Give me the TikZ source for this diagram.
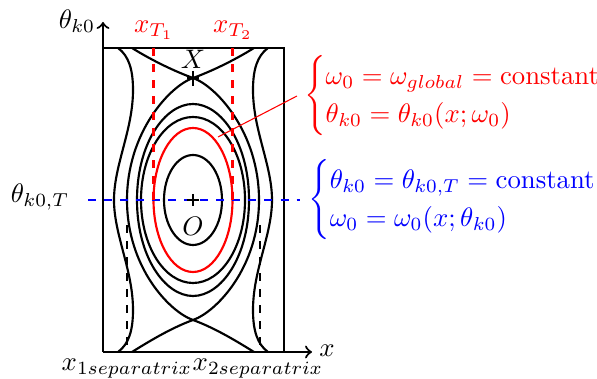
\documentclass[tikz,border=0pt]{standalone}
\usepackage{amsmath}
\begin{document}
\begin{tikzpicture}[x=0.374pt,y=-0.374pt,
  curve/.style={thick,black},
  redcurve/.style={thick,red},
  axisline/.style={thick,->},
  thinmark/.style={line width=0.4pt},
  vdash/.style={thick,dashed},
  lbl/.style={inner sep=1pt}]
\useasboundingbox (0,0) rectangle (597,379);
% named points
\coordinate (orig) at (103,352);
\coordinate (ytip) at (103,22);
\coordinate (xtip) at (312,352);
\coordinate (O) at (193,200);
\coordinate (X) at (193,78);
% box
\draw[thick] (103,48) -- (284,48) -- (284,352);
% axes
\draw[axisline] (orig) -- (ytip);
\draw[axisline] (orig) -- (xtip);
% outer open orbits
\draw[curve] (118,48) .. controls (129,56) and (133,70) .. (133,90)
  .. controls (133,130) and (114,165) .. (114,200)
  .. controls (114,235) and (133,270) .. (133,310)
  .. controls (133,330) and (129,344) .. (118,352);
\draw[curve] (268,48) .. controls (257,56) and (253,70) .. (253,90)
  .. controls (253,130) and (272,165) .. (272,200)
  .. controls (272,235) and (253,270) .. (253,310)
  .. controls (253,330) and (257,344) .. (268,352);
% separatrices
\draw[curve] (254,48) .. controls (238,58) and (215,70) .. (X)
  .. controls (170,86) and (127,132) .. (127,200)
  .. controls (127,268) and (170,312) .. (193,320)
  .. controls (215,328) and (238,342) .. (254,352);
\draw[curve] (132,48) .. controls (148,58) and (171,70) .. (X)
  .. controls (216,86) and (259,132) .. (259,200)
  .. controls (259,268) and (216,312) .. (193,320)
  .. controls (171,328) and (148,342) .. (132,352);
% closed orbits
\draw[curve] (193,104) .. controls (221,104) and (249,143) .. (249,200)
  .. controls (249,257) and (221,296) .. (193,296)
  .. controls (165,296) and (137,257) .. (137,200)
  .. controls (137,143) and (165,104) .. cycle;
\draw[curve] (O) ellipse [x radius=52, y radius=83];
\draw[redcurve] (O) ellipse [x radius=39.5, y radius=72];
\draw[curve] (O) ellipse [x radius=29, y radius=45];
% dashed lines
\draw[thick,dashed,blue] (88,200) -- (300,200);
\draw[vdash,red] (153.5,48) -- (153.5,200);
\draw[vdash,red] (232.5,48) -- (232.5,200);
\draw[vdash] (127,225) coordinate (d1) -- (127,352);
\draw[vdash] (260,225) coordinate (d2) -- (260,352);
% plus marks
\draw[thinmark] (187,200) -- (199,200) (193,194) -- (193,206);
\draw[thinmark] (187,78) -- (199,78) (193,71) -- (193,86);
% labels
\node[lbl] (ylab) at (77,21) {$\theta_{k0}$};
\node[lbl] (xlab) at (327,351) {$x$};
\node[lbl] (thT) at (40,197) {$\theta_{k0,T}$};
\node[lbl,red] (xT1) at (154,30) {$x_{T_1}$};
\node[lbl,red] (xT2) at (233,30) {$x_{T_2}$};
\node[lbl] (Xlab) at (193,59) {$X$};
\node[lbl] (Olab) at (193,226) {$O$};
\node[lbl] (s1) at (127,369) {$x_{1separatrix}$};
\node[lbl] (s2) at (258,369) {$x_{2separatrix}$};
% equations
\node[lbl,red,anchor=west] (redeq) at (301,96)
  {$\begin{cases}\omega_0=\omega_{global}=\text{constant}\\ \theta_{k0}=\theta_{k0}(x;\omega_0)\end{cases}$};
\node[lbl,blue,anchor=west] (blueeq) at (305,200)
  {$\begin{cases}\theta_{k0}=\theta_{k0,T}=\text{constant}\\ \omega_0=\omega_0(x;\theta_{k0})\end{cases}$};
% pointer
\coordinate (ptr) at (218,137);
\draw[red,thinmark] (ptr) -- ([xshift=-1.5pt]redeq.west);
\end{tikzpicture}
\end{document}
